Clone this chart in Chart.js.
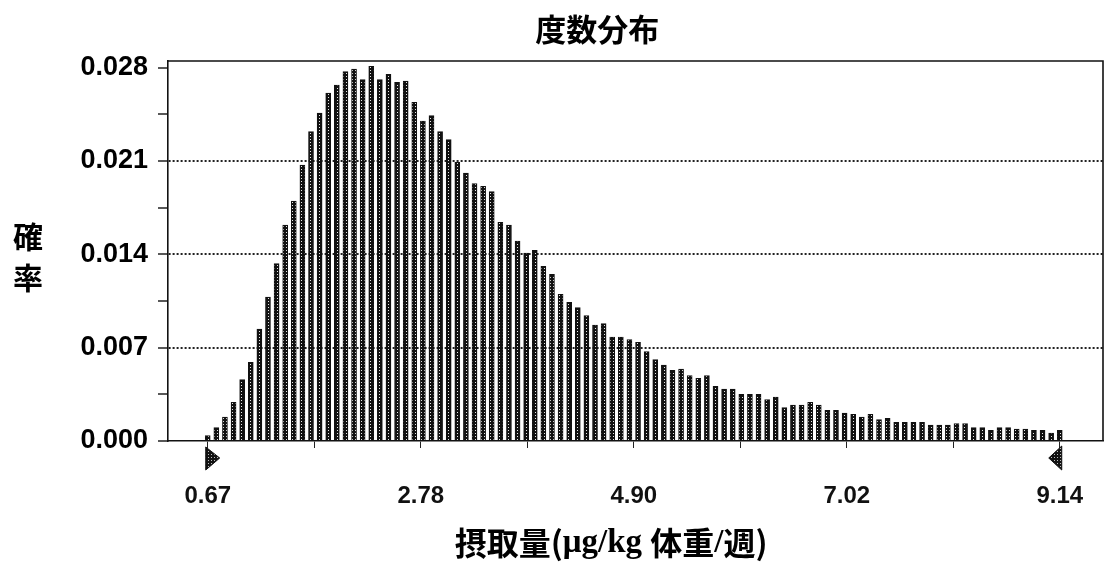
<!DOCTYPE html>
<html lang="ja">
<head>
<meta charset="utf-8">
<title>度数分布</title>
<script src="https://cdn.jsdelivr.net/npm/chart.js@4.4.1/dist/chart.umd.min.js"></script>
<style>
  html, body { margin: 0; padding: 0; background: #fff; }
  #wrap { width: 1105px; height: 562px; position: relative; }
</style>
</head>
<body>
<div id="wrap"><canvas id="histChart"></canvas></div>
<script>
// range of the bins (first and last bar centre), 100 bars
const binFirst = 0.67;
const binLast = 9.14;

// probability of each bin
const probValues = [
  0.0004, 0.0010, 0.0018, 0.0029, 0.0046, 0.0059, 0.0084, 0.0108, 0.0133, 0.0162,
  0.0180, 0.0207, 0.0232, 0.0246, 0.0261, 0.0267, 0.0277, 0.0279, 0.0271, 0.0281,
  0.0271, 0.0275, 0.0269, 0.0270, 0.0254, 0.0240, 0.0244, 0.0232, 0.0226, 0.0209,
  0.0201, 0.0193, 0.0191, 0.0187, 0.0164, 0.0162, 0.0150, 0.0141, 0.0143, 0.0131,
  0.0125, 0.0110, 0.0104, 0.0100, 0.0094, 0.0087, 0.0088, 0.0078, 0.0078, 0.0076,
  0.0074, 0.0067, 0.0061, 0.0057, 0.0053, 0.0054, 0.0049, 0.0047, 0.0049, 0.0041,
  0.0039, 0.0039, 0.0035, 0.0035, 0.0035, 0.0031, 0.0033, 0.0025, 0.0027, 0.0027,
  0.0029, 0.0027, 0.0023, 0.0023, 0.0021, 0.0020, 0.0018, 0.0020, 0.0016, 0.0017,
  0.0014, 0.0014, 0.0014, 0.0014, 0.0012, 0.0012, 0.0012, 0.0013, 0.0013, 0.0010,
  0.0010, 0.0008, 0.0010, 0.0010, 0.0009, 0.0009, 0.0008, 0.0008, 0.0006, 0.0008
];

const xTickLabels = ['0.67', '2.78', '4.90', '7.02', '9.14'];
const yTickLabels = ['0.000', '0.007', '0.014', '0.021', '0.028'];
const yTickValues = [0, 0.007, 0.014, 0.021, 0.028];
const yGridValues = [0.007, 0.014, 0.021];

const chartTitle = '度数分布';
const yTitleChars = ['確', '率'];
const xTitleParts = [
  ['摂取量', 'cjk'], ['(', 'cjk'], ['μg/kg ', 'serif'],
  ['体重', 'cjk'], ['/', 'serif'], ['週', 'cjk'], [')', 'cjk']
];

const CJK = '"Noto Sans CJK JP", "Noto Sans", sans-serif';
const SERIF = '"Liberation Serif", "DejaVu Serif", serif';
const SANS = '"Liberation Sans", Arial, sans-serif';

// bar centres spread evenly between first and last bin
const step = (binLast - binFirst) / (probValues.length - 1);
const barPoints = probValues.map((v, i) => ({ x: binFirst + i * step, y: v }));

// x ticks: labelled ones plus a tick half way between
const xTicks = [];
for (let k = 0; k < xTickLabels.length * 2 - 1; k++) {
  xTicks.push(binFirst + k * (binLast - binFirst) / ((xTickLabels.length - 1) * 2));
}
// y ticks: labelled ones plus half steps
const yTicks = [];
for (let k = 0; k < yTickValues.length * 2 - 1; k++) {
  yTicks.push(k * (yTickValues[1] - yTickValues[0]) / 2);
}

// stippled fill like the printed bars
function makeStipple(dot) {
  const c = document.createElement('canvas');
  c.width = 3; c.height = 3;
  const g = c.getContext('2d');
  g.fillStyle = '#111';
  g.fillRect(0, 0, 3, 3);
  g.fillStyle = dot;
  g.fillRect(1, 1, 1, 1);
  return g.createPattern(c, 'repeat');
}
const ctx = document.getElementById('histChart').getContext('2d');
const barFill = makeStipple('#e8e8e8');
const markFill = makeStipple('#bbbbbb');

const decorPlugin = {
  id: 'decor',
  afterDraw(chart) {
    const { ctx, chartArea: a, scales: { x } } = chart;
    ctx.save();

    // top and right sides of the frame
    ctx.strokeStyle = '#111';
    ctx.lineWidth = 1.6;
    ctx.beginPath();
    ctx.moveTo(a.left, a.top);
    ctx.lineTo(a.right, a.top);
    ctx.lineTo(a.right, a.bottom);
    ctx.stroke();

    // range markers under the axis
    const x0 = x.getPixelForValue(binFirst);
    const x1 = x.getPixelForValue(binLast);
    const yb = a.bottom;
    ctx.lineWidth = 1;
    ctx.fillStyle = markFill;
    ctx.beginPath();
    ctx.moveTo(x0 - 2, yb + 6);
    ctx.lineTo(x0 - 2, yb + 29);
    ctx.lineTo(x0 + 12, yb + 17);
    ctx.closePath();
    ctx.fill(); ctx.stroke();
    ctx.beginPath();
    ctx.moveTo(x1 + 2, yb + 5);
    ctx.lineTo(x1 + 2, yb + 29);
    ctx.lineTo(x1 - 11, yb + 17);
    ctx.closePath();
    ctx.fill(); ctx.stroke();

    ctx.fillStyle = '#000';
    ctx.textBaseline = 'middle';

    // chart title
    ctx.font = 'bold 31px ' + CJK;
    ctx.textAlign = 'center';
    ctx.fillText(chartTitle, a.left + (a.right - a.left) * 0.459, a.top - 32);

    // y title, characters stacked upright
    ctx.font = 'bold 30px ' + CJK;
    const midY = (a.top + a.bottom) / 2;
    yTitleChars.forEach((ch, i) => {
      ctx.fillText(ch, 28, midY - 14 + i * 41);
    });

    // x title, mixed fonts
    ctx.textAlign = 'left';
    const fontFor = kind => (kind === 'serif' ? 'bold 33px ' + SERIF : 'bold 32px ' + CJK);
    let total = 0;
    xTitleParts.forEach(([t, kind]) => { ctx.font = fontFor(kind); total += ctx.measureText(t).width; });
    let cx = a.left + (a.right - a.left) * 0.474 - total / 2;
    const ty = a.bottom + 102;
    xTitleParts.forEach(([t, kind]) => {
      ctx.font = fontFor(kind);
      ctx.fillText(t, cx, ty);
      cx += ctx.measureText(t).width;
    });

    ctx.restore();
  }
};

new Chart(ctx, {
  type: 'bar',
  data: {
    datasets: [{
      data: barPoints,
      backgroundColor: barFill,
      borderColor: '#111',
      borderWidth: 1,
      barThickness: 5
    }]
  },
  options: {
    responsive: true,
    maintainAspectRatio: false,
    animation: false,
    layout: { padding: { top: 61, right: 2, left: 0, bottom: 0 } },
    plugins: {
      legend: { display: false },
      title: { display: false },
      tooltip: { enabled: false }
    },
    scales: {
      x: {
        type: 'linear',
        offset: false,
        min: 0.275,
        max: 9.57,
        afterBuildTicks: s => { s.ticks = xTicks.map(v => ({ value: v })); },
        afterFit: s => { s.height = 121; s.paddingLeft = 0; s.paddingRight = 0; },
        ticks: {
          autoSkip: false,
          maxRotation: 0,
          padding: 34,
          color: '#111',
          font: { family: SANS, size: 24, weight: 'bold' },
          callback: (v, i) => (i % 2 ? '' : xTickLabels[i / 2])
        },
        grid: {
          offset: false,
          drawOnChartArea: false,
          tickLength: 7,
          tickColor: '#222',
          tickWidth: 1
        },
        border: { color: '#111', width: 1.6 }
      },
      y: {
        min: 0,
        max: 0.0285,
        afterBuildTicks: s => { s.ticks = yTicks.map(v => ({ value: v })); },
        afterFit: s => { s.width = 168; },
        ticks: {
          autoSkip: false,
          padding: 10,
          color: '#000',
          font: { family: SANS, size: 27, weight: 'bold' },
          callback: (v, i) => (i % 2 ? '' : yTickLabels[i / 2])
        },
        grid: {
          color: c => (c.tick && yGridValues.some(g => Math.abs(g - c.tick.value) < 1e-6) ? '#222' : 'rgba(0,0,0,0)'),
          lineWidth: 2,
          tickLength: 10,
          tickColor: '#111',
          tickWidth: 1.4,
          tickBorderDash: []
        },
        border: { color: '#111', width: 1.6, dash: [2, 2] }
      }
    }
  },
  plugins: [decorPlugin]
});
</script>
</body>
</html>
